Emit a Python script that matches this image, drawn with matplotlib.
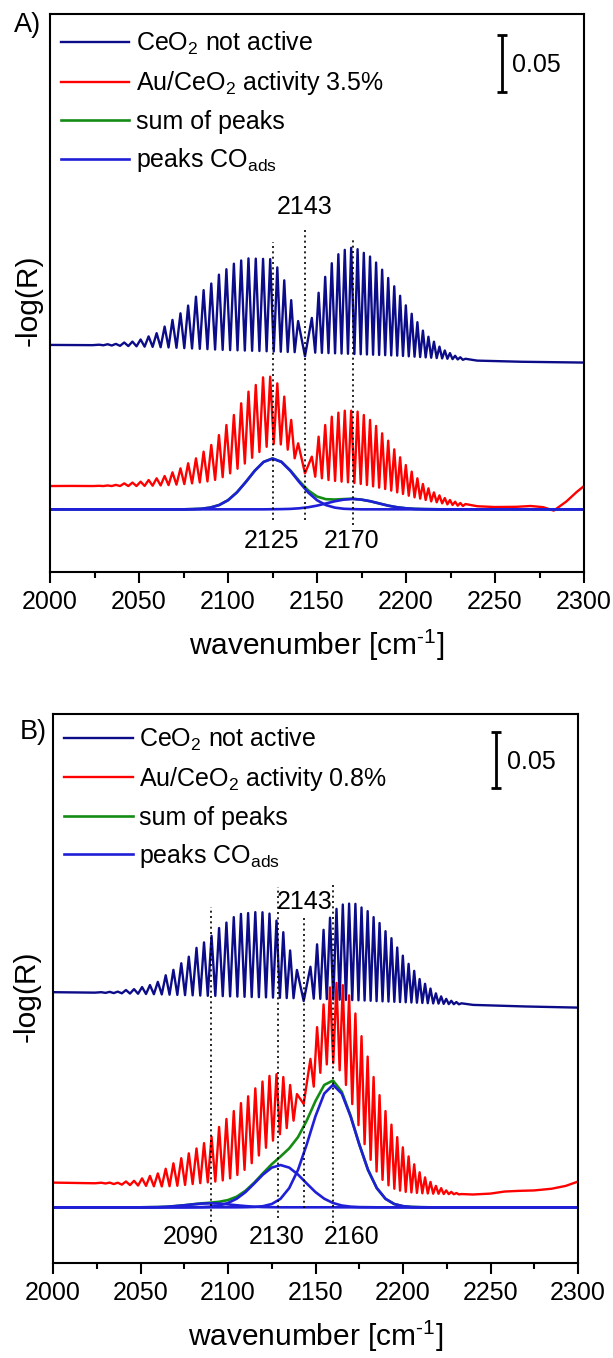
import numpy as np
import matplotlib
matplotlib.use('Agg')
import matplotlib.pyplot as plt
from matplotlib.ticker import MultipleLocator, FixedLocator

plt.rcParams['font.family'] = ['Liberation Sans', 'DejaVu Sans']
plt.rcParams['mathtext.fontset'] = 'custom'
plt.rcParams['mathtext.rm'] = 'Liberation Sans'
plt.rcParams['mathtext.it'] = 'Liberation Sans:italic'
plt.rcParams['mathtext.bf'] = 'Liberation Sans:bold'

# ---------------- data ----------------
# CO gas-phase ro-vibrational line positions (cm-1), ascending
P_pos = [2027.6, 2032.4, 2037.0, 2041.7, 2046.3, 2050.9, 2055.4, 2059.9, 2064.4, 2068.8,
         2073.3, 2077.6, 2082.0, 2086.3, 2090.6, 2094.9, 2099.1, 2103.3, 2107.4, 2111.5,
         2115.6, 2119.7, 2123.7, 2127.7, 2131.6, 2135.5, 2139.4]
R_pos = [2147.1, 2150.9, 2154.6, 2158.3, 2162.0, 2165.6, 2169.2, 2172.8, 2176.3, 2179.8,
         2183.2, 2186.6, 2190.0, 2193.4, 2196.7, 2199.9, 2203.2, 2206.4, 2209.5, 2212.6,
         2215.7, 2218.8, 2221.8, 2224.7, 2227.6, 2230.5, 2233.4]

# Panel A, CeO2 (not active): line maxima and minima between lines
ceoA_top = [0.1970, 0.1974, 0.1977, 0.1989, 0.1997, 0.2015, 0.2042, 0.2070, 0.2127, 0.2185,
            0.2242, 0.2309, 0.2386, 0.2443, 0.2500, 0.2577, 0.2624, 0.2672, 0.2700, 0.2718,
            0.2716, 0.2714, 0.2712, 0.2640, 0.2528, 0.2356, 0.2175,
            0.2202, 0.2420, 0.2558, 0.2676, 0.2754, 0.2792, 0.2810, 0.2798, 0.2766, 0.2734,
            0.2682, 0.2620, 0.2548, 0.2476, 0.2394, 0.2311, 0.2238, 0.2165, 0.2092, 0.2039,
            0.1996, 0.1953, 0.1920, 0.1897, 0.1874, 0.1861, 0.1848]
ceoA_min = [0.1965, 0.1963, 0.1960, 0.1958, 0.1956, 0.1953, 0.1951, 0.1948, 0.1946, 0.1943,
            0.1940, 0.1937, 0.1934, 0.1931, 0.1928, 0.1925, 0.1923, 0.1921, 0.1919, 0.1917,
            0.1915, 0.1913, 0.1911, 0.1909, 0.1907, 0.1905,
            0.1870,
            0.1901, 0.1899, 0.1897, 0.1895, 0.1893, 0.1891, 0.1889, 0.1887, 0.1885, 0.1883,
            0.1881, 0.1879, 0.1877, 0.1875, 0.1872, 0.1869, 0.1866, 0.1863, 0.1860, 0.1857,
            0.1854, 0.1851, 0.1848, 0.1845, 0.1842, 0.1839]
ceoA_head_x, ceoA_head_y = [2000, 2012, 2024], [0.1968, 0.1967, 0.1966]
ceoA_tail_x, ceoA_tail_y = [2240, 2265, 2300], [0.1832, 0.1822, 0.1815]

# Panel A, Au/CeO2 activity 3.5 %
auA_top = [0.0747, 0.0750, 0.0755, 0.0768, 0.0775, 0.0783, 0.0797, 0.0812, 0.0832, 0.0864,
           0.0898, 0.0942, 0.0985, 0.1043, 0.1101, 0.1187, 0.1274, 0.1361, 0.1462, 0.1563,
           0.1621, 0.1687, 0.1693, 0.1635, 0.1520, 0.1318, 0.1115,
           0.1000, 0.1173, 0.1274, 0.1346, 0.1381, 0.1398, 0.1398, 0.1390, 0.1361, 0.1318,
           0.1266, 0.1202, 0.1138, 0.1063, 0.0994, 0.0927, 0.0870, 0.0812, 0.0763, 0.0725,
           0.0690, 0.0664, 0.0641, 0.0624, 0.0609, 0.0598, 0.0589]
auA_min = [0.0745, 0.0745, 0.0745, 0.0745, 0.0745, 0.0746, 0.0748, 0.0750, 0.0753, 0.0757,
           0.0762, 0.0768, 0.0776, 0.0785, 0.0798, 0.0822, 0.0855, 0.0895, 0.0940, 0.0990,
           0.1040, 0.1085, 0.1110, 0.1105, 0.1060, 0.0985,
           0.0855,
           0.0826, 0.0812, 0.0797, 0.0789, 0.0783, 0.0777, 0.0771, 0.0763, 0.0754, 0.0742,
           0.0731, 0.0719, 0.0705, 0.0690, 0.0676, 0.0661, 0.0647, 0.0636, 0.0624, 0.0612,
           0.0604, 0.0595, 0.0586, 0.0581, 0.0575, 0.0572]
auA_head_x, auA_head_y = [2000, 2012, 2024], [0.0745, 0.0746, 0.0745]
auA_tail_x = [2240, 2250, 2262, 2270, 2277, 2283, 2290, 2296, 2300]
auA_tail_y = [0.0570, 0.0563, 0.0565, 0.0572, 0.0562, 0.0532, 0.0610, 0.0695, 0.0745]

# Panel A fitted CO_ads peaks (above fit baseline)
fitA_base = 0.0543
fitA_x = [2000, 2070, 2075, 2080, 2085, 2090, 2095, 2100, 2105, 2110, 2115, 2120, 2125,
          2130, 2135, 2140, 2145, 2150, 2155, 2160, 2165, 2170, 2175, 2180, 2185, 2190,
          2195, 2200, 2205, 2210, 2215, 2220, 2300]
peakA_2125 = [0, 0, 0, 0.0002, 0.0005, 0.0015, 0.0037, 0.0079, 0.0147, 0.0237, 0.0334, 0.0411,
              0.0440, 0.0411, 0.0334, 0.0237, 0.0147, 0.0079, 0.0037, 0.0015, 0.0005, 0.0002,
              0, 0, 0, 0, 0, 0, 0, 0, 0, 0, 0]
peakA_2170 = [0, 0, 0, 0, 0, 0, 0, 0, 0, 0, 0, 0, 0.0001, 0.0002, 0.0004, 0.0009, 0.0018,
              0.0032, 0.0051, 0.0070, 0.0084, 0.0090, 0.0084, 0.0070, 0.0051, 0.0032, 0.0018,
              0.0009, 0.0004, 0.0002, 0.0001, 0, 0]

# Panel B, CeO2 (not active)
ceoB_top = [0.2388, 0.2391, 0.2393, 0.2407, 0.2415, 0.2433, 0.2451, 0.2479, 0.2537, 0.2585,
            0.2643, 0.2701, 0.2779, 0.2827, 0.2885, 0.2954, 0.3002, 0.3050, 0.3078, 0.3086,
            0.3094, 0.3093, 0.3081, 0.3019, 0.2917, 0.2756, 0.2584,
            0.2612, 0.2810, 0.2938, 0.3045, 0.3123, 0.3161, 0.3169, 0.3167, 0.3135, 0.3103,
            0.3050, 0.2998, 0.2926, 0.2864, 0.2782, 0.2710, 0.2638, 0.2576, 0.2504, 0.2462,
            0.2420, 0.2378, 0.2351, 0.2329, 0.2312, 0.2301, 0.2290]
ceoB_min = [0.2382, 0.2380, 0.2378, 0.2376, 0.2374, 0.2372, 0.2370, 0.2368, 0.2366, 0.2364,
            0.2362, 0.2360, 0.2358, 0.2356, 0.2355, 0.2353, 0.2351, 0.2349, 0.2347, 0.2345,
            0.2344, 0.2342, 0.2340, 0.2338, 0.2336, 0.2335,
            0.2310,
            0.2331, 0.2329, 0.2327, 0.2324, 0.2322, 0.2320, 0.2318, 0.2316, 0.2314, 0.2312,
            0.2309, 0.2307, 0.2305, 0.2303, 0.2301, 0.2299, 0.2297, 0.2295, 0.2293, 0.2291,
            0.2289, 0.2287, 0.2285, 0.2283, 0.2282, 0.2281]
ceoB_head_x, ceoB_head_y = [2000, 2012, 2024], [0.2388, 0.2386, 0.2384]
ceoB_tail_x, ceoB_tail_y = [2240, 2270, 2300], [0.2276, 0.2262, 0.2252]

# Panel B, Au/CeO2 activity 0.8 %
auB_top = [0.0708, 0.0709, 0.0708, 0.0719, 0.0725, 0.0746, 0.0768, 0.0790, 0.0831, 0.0879,
           0.0924, 0.0967, 0.1010, 0.1057, 0.1114, 0.1200, 0.1270, 0.1340, 0.1410, 0.1470,
           0.1540, 0.1600, 0.1650, 0.1665, 0.1640, 0.1570, 0.1490,
           0.180, 0.208, 0.228, 0.243, 0.247, 0.245, 0.236, 0.220, 0.200, 0.182,
           0.164, 0.148, 0.134, 0.122, 0.111, 0.102, 0.094, 0.087, 0.080, 0.0755,
           0.0715, 0.068, 0.066, 0.064, 0.0627, 0.0617, 0.0608]
auB_min = [0.0701, 0.0696, 0.0691, 0.0687, 0.0683, 0.0680, 0.0676, 0.0675, 0.0677, 0.0681,
           0.0688, 0.0696, 0.0704, 0.0711, 0.0718, 0.0728, 0.0746, 0.0776, 0.0821, 0.0880,
           0.0948, 0.1016, 0.1079, 0.1135, 0.1189, 0.1255,
           0.1402,
           0.1555, 0.1677, 0.1751, 0.1762, 0.1699, 0.1570, 0.1401, 0.1216, 0.1048, 0.0910,
           0.0807, 0.0733, 0.0685, 0.0655, 0.0638, 0.0627, 0.0622, 0.0618, 0.0615, 0.0613,
           0.0611, 0.0610, 0.0608, 0.0607, 0.0606, 0.0605]
auB_head_x, auB_head_y = [2000, 2012, 2024], [0.0709, 0.0706, 0.0703]
auB_tail_x = [2240, 2250, 2258, 2266, 2275, 2285, 2293, 2300]
auB_tail_y = [0.0604, 0.0612, 0.0630, 0.0636, 0.0640, 0.0655, 0.0680, 0.0718]

# Panel B fitted CO_ads peaks
fitB_base = 0.0491
fitB_x = [2000, 2040, 2045, 2050, 2055, 2060, 2065, 2070, 2075, 2080, 2085, 2090, 2095, 2100,
          2105, 2110, 2115, 2120, 2125, 2130, 2135, 2140, 2145, 2150, 2155, 2160, 2165, 2170,
          2175, 2180, 2185, 2190, 2195, 2200, 2205, 2210, 2215, 2300]
peakB_2090 = [0, 0, 0, 0, 0.0001, 0.0002, 0.0005, 0.0011, 0.0018, 0.0026, 0.0033, 0.0035,
              0.0033, 0.0026, 0.0018, 0.0011, 0.0005, 0.0002, 0.0001, 0, 0, 0, 0, 0, 0, 0, 0,
              0, 0, 0, 0, 0, 0, 0, 0, 0, 0, 0]
peakB_2130 = [0, 0, 0, 0, 0, 0, 0, 0, 0, 0.0001, 0.0002, 0.0006, 0.0016, 0.0038, 0.0076,
              0.0134, 0.0210, 0.0289, 0.0350, 0.0373, 0.0350, 0.0289, 0.0210, 0.0134, 0.0076,
              0.0038, 0.0016, 0.0006, 0.0002, 0.0001, 0, 0, 0, 0, 0, 0, 0, 0]
peakB_2160 = [0, 0, 0, 0, 0, 0, 0, 0, 0, 0, 0, 0, 0, 0, 0, 0.0001, 0.0003, 0.0010, 0.0029,
              0.0075, 0.0170, 0.0330, 0.0555, 0.0804, 0.1003, 0.1080, 0.1003, 0.0804, 0.0555,
              0.0330, 0.0170, 0.0075, 0.0029, 0.0010, 0.0003, 0.0001, 0, 0]

xticks = [2000, 2050, 2100, 2150, 2200, 2250, 2300]
labelsA = ['CeO$_2$ not active', 'Au/CeO$_2$ activity 3.5%', 'sum of peaks', 'peaks CO$_{\\mathrm{ads}}$']
labelsB = ['CeO$_2$ not active', 'Au/CeO$_2$ activity 0.8%', 'sum of peaks', 'peaks CO$_{\\mathrm{ads}}$']

# dotted markers: (x, y_bottom, y_top)
marksA = [(2125, 0.0451, 0.2864), (2143, 0.0451, 0.2994), (2170, 0.0407, 0.2887)]
marksB = [(2090, 0.0364, 0.3143), (2128.5, 0.0397, 0.3319), (2143.5, 0.0485, 0.3054), (2160, 0.0353, 0.3334)]

C_CEO = '#0c0c88'
C_AU = '#ff0000'
C_SUM = '#148c14'
C_PK = '#1f1fd8'
FS = 18


def spectrum(top, mins, hx, hy, tx, ty):
    lines = P_pos + R_pos
    xs, ys = list(hx), list(hy)
    for i, x in enumerate(lines):
        xs.append(x)
        ys.append(top[i])
        if i < len(lines) - 1:
            xs.append((x + lines[i + 1]) / 2.0)
            ys.append(mins[i])
    xs += list(tx)
    ys += list(ty)
    return xs, ys


def style_axis(ax, ytop):
    ax.set_xlim(2000, 2300)
    ax.set_ylim(0, ytop)
    ax.xaxis.set_major_locator(FixedLocator(xticks))
    ax.xaxis.set_minor_locator(MultipleLocator(25))
    ax.set_yticks([])
    ax.tick_params(axis='x', which='major', direction='out', length=8, width=1.5,
                   labelsize=FS, pad=5, top=False)
    ax.tick_params(axis='x', which='minor', direction='out', length=4.5, width=1.5, top=False)
    for s in ax.spines.values():
        s.set_linewidth(1.5)
    ax.set_xlabel('wavenumber [cm$^{\\text{-}1}$]', fontsize=21.5, labelpad=10)
    ax.set_ylabel('-log(R)', fontsize=21.5)


fig = plt.figure(figsize=(6.13, 13.58), dpi=100)
axA = fig.add_axes([50 / 613, 1 - 572 / 1358, 534 / 613, 558 / 1358])
axB = fig.add_axes([53 / 613, 1 - 1263 / 1358, 525 / 613, 549 / 1358])

panels = [
    (axA, ceoA_top, ceoA_min, ceoA_head_x, ceoA_head_y, ceoA_tail_x, ceoA_tail_y,
     auA_top, auA_min, auA_head_x, auA_head_y, auA_tail_x, auA_tail_y,
     fitA_x, fitA_base, [peakA_2125, peakA_2170], labelsA, marksA, 0.4836, (0.0199, 0.972)),
    (axB, ceoB_top, ceoB_min, ceoB_head_x, ceoB_head_y, ceoB_tail_x, ceoB_tail_y,
     auB_top, auB_min, auB_head_x, auB_head_y, auB_tail_x, auB_tail_y,
     fitB_x, fitB_base, [peakB_2090, peakB_2130, peakB_2160], labelsB, marksB, 0.4841, (0.0219, 0.979)),
]

for (ax, ct, cm, chx, chy, ctx, cty, at, am, ahx, ahy, atx, aty,
     fx, fb, peaks, labels, marks, ytop, anchor) in panels:
    x, y = spectrum(ct, cm, chx, chy, ctx, cty)
    l1, = ax.plot(x, y, color=C_CEO, lw=1.7, label=labels[0])
    x, y = spectrum(at, am, ahx, ahy, atx, aty)
    l2, = ax.plot(x, y, color=C_AU, lw=1.7, label=labels[1])
    total = np.sum(np.array(peaks), axis=0)
    l3, = ax.plot(fx, total + fb, color=C_SUM, lw=1.9, label=labels[2])
    l4 = None
    for pk in peaks:
        l4, = ax.plot(fx, np.array(pk) + fb, color=C_PK, lw=1.9, label=labels[3])
    for (mx, y0, y1) in marks:
        ax.plot([mx, mx], [y0, y1], color='black', lw=1.2, ls=(0, (1.2, 2.0)))
    style_axis(ax, ytop)
    ax.legend(handles=[l1, l2, l3, l4], labels=labels, loc='upper left',
              bbox_to_anchor=anchor, frameon=False, fontsize=FS,
              handlelength=2.75, handletextpad=0.25, labelspacing=0.5,
              borderpad=0, borderaxespad=0)

# scale bars and annotations
axA.errorbar([2253.7], [0.4406], yerr=[0.025], fmt='none', ecolor='black',
             elinewidth=2.0, capsize=3.8, capthick=2.0)
axA.text(2259.6, 0.4396, '0.05', fontsize=FS, ha='left', va='center')
axA.text(2143, 0.3165, '2143', fontsize=FS, ha='center', va='center')
axA.text(2124.5, 0.0269, '2125', fontsize=FS, ha='center', va='center')
axA.text(2169.5, 0.0269, '2170', fontsize=FS, ha='center', va='center')
axA.yaxis.set_label_coords(-0.013, 0.487)

axB.errorbar([2253.4], [0.4435], yerr=[0.025], fmt='none', ecolor='black',
             elinewidth=2.0, capsize=3.8, capthick=2.0)
axB.text(2259.7, 0.4422, '0.05', fontsize=FS, ha='left', va='center')
axB.text(2143.5, 0.3187, '2143', fontsize=FS, ha='center', va='center')
axB.text(2078.7, 0.0229, '2090', fontsize=FS, ha='center', va='center')
axB.text(2127.9, 0.0229, '2130', fontsize=FS, ha='center', va='center')
axB.text(2170.8, 0.0229, '2160', fontsize=FS, ha='center', va='center')
axB.yaxis.set_label_coords(-0.023, 0.486)

fig.text(13.7 / 613, 1 - 25 / 1358, 'A)', fontsize=19.5, ha='left', va='center')
fig.text(19.5 / 613, 1 - 731.7 / 1358, 'B)', fontsize=19.5, ha='left', va='center')

fig.savefig('out.png', dpi=100)
